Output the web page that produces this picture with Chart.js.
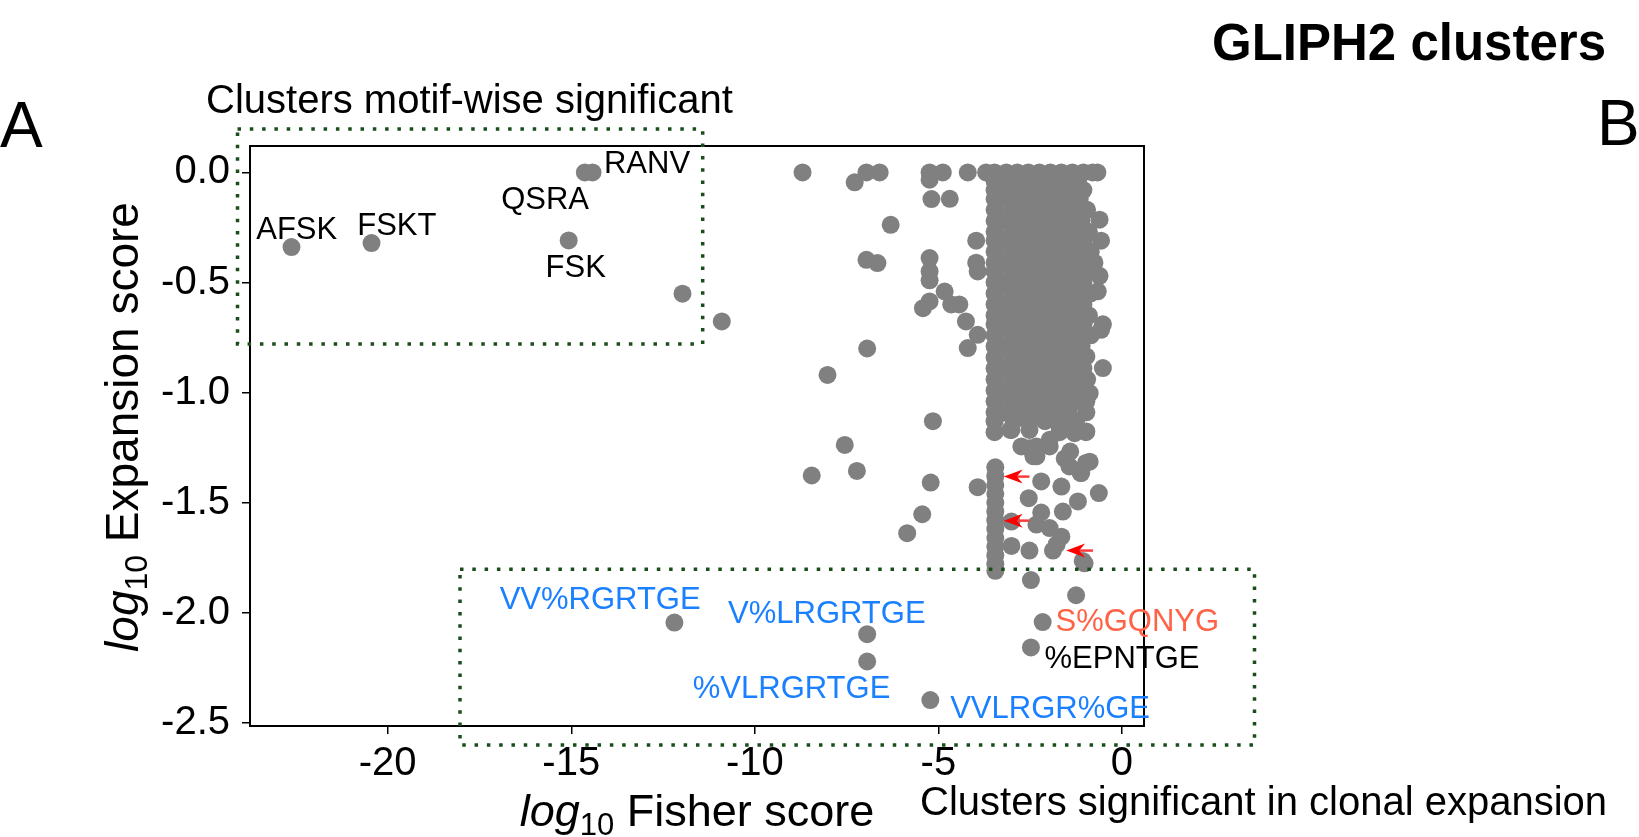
<!DOCTYPE html>
<html>
<head>
<meta charset="utf-8">
<script src="https://cdn.jsdelivr.net/npm/chart.js@4.4.1/dist/chart.umd.min.js"></script>
<style>
  html, body { margin: 0; padding: 0; background: #fff; }
  canvas { display: block; }
</style>
</head>
<body>
<canvas id="gliph" width="1639" height="837"></canvas>
<script>
// --- data (log10 Fisher score, log10 expansion score) ---
const fisherTicks = [-20, -15, -10, -5, 0];
const expansionTicks = [0, -0.5, -1, -1.5, -2, -2.5];

// clusters that carry a motif label
const labelledPoints = [
  [-22.62, -0.339], [-20.44, -0.321], [-14.63, 0], [-14.42, 0], [-15.07, -0.309],
  [-12.19, -2.045], [-6.94, -2.098], [-6.94, -2.222], [-5.22, -2.397],
  [-2.16, -2.043], [-2.48, -2.158]
];

// scattered clusters outside the dense block
const sparsePoints = [
  [-11.97, -0.551], [-10.9, -0.677], [-8.70, 0], [-7.28, -0.045], [-6.96, 0], [-6.60, 0],
  [-5.24, 0], [-4.88, 0], [-4.20, 0], [-5.24, -0.033], [-5.19, -0.121], [-4.69, -0.12],
  [-6.30, -0.238], [-6.96, -0.397], [-6.66, -0.412], [-5.24, -0.389], [-5.24, -0.45],
  [-5.24, -0.49], [-4.83, -0.541], [-5.24, -0.586], [-5.42, -0.617], [-4.65, -0.60],
  [-4.43, -0.60], [-4.25, -0.677], [-3.93, -0.738], [-4.20, -0.798], [-6.94, -0.80],
  [-8.02, -0.92], [-5.15, -1.13], [-7.55, -1.238], [-7.22, -1.356], [-8.45, -1.377],
  [-5.21, -1.409], [-5.44, -1.553], [-5.85, -1.639], [-3.93, -1.43],
  [-1.25, -1.921], [-2.48, -1.852], [-1.02, -1.776],
  [-2.20, -1.404], [-2.54, -1.48], [-1.65, -1.427], [-1.20, -1.495], [-0.63, -1.457],
  [-2.20, -1.545], [-1.61, -1.541], [-3.01, -1.586], [-2.33, -1.60], [-1.97, -1.616],
  [-1.65, -1.655], [-3.01, -1.697], [-2.52, -1.718], [-1.88, -1.718], [-1.07, -1.765],
  [-1.78, -1.69], [-1.41, -1.268], [-0.98, -1.32], [-1.13, -1.365], [-2.41, -1.29],
  [-1.97, -1.215], [-2.33, -1.245], [-3.04, -1.17], [-0.98, -1.18],
  [-3.01, -1.17], [-2.52, -1.17], [-2.52, -1.253], [-2.33, -1.29], [-1.97, -1.245],
  [-1.70, -1.155], [-1.29, -1.185], [-0.97, -1.177], [-1.56, -1.30], [-1.43, -1.336],
  [-1.11, -1.366], [-0.88, -1.314], [-0.52, -0.889], [-0.88, -1.003], [-0.97, -0.836],
  [-0.57, -0.715], [-0.61, -0.215], [-0.57, -0.31], [-0.61, -0.47], [-0.66, -0.54],
  [-0.52, -0.69], [-2.74, -1.245]
];

// column of clusters at log10 Fisher ~ -3.45 below the block
const columnFisher = -3.45;
const columnExpansion = [-1.34, -1.38, -1.42, -1.46, -1.50, -1.54, -1.58, -1.62, -1.66, -1.70, -1.74, -1.78, -1.81];

// dense block: [expansion, [fisher values]]
const denseRows = [
  [0.00, [-3.70, -3.47, -3.15, -2.85, -2.55, -2.25, -1.95, -1.65, -1.35, -1.05, -0.80, -0.67]],
  [-0.04, [-3.47, -3.25, -2.90, -2.45, -2.05, -1.60, -1.20]],
  [-0.08, [-3.47, -3.05, -2.65, -2.20, -1.80, -1.40, -1.05]],
  [-0.12, [-3.47, -3.25, -2.85, -2.40, -1.95, -1.55, -1.15]],
  [-0.17, [-3.47, -3.00, -2.60, -2.15, -1.75, -1.30, -0.95]],
  [-0.22, [-3.47, -3.20, -2.80, -2.35, -1.95, -1.50, -1.10]],
  [-0.27, [-3.47, -3.00, -2.55, -2.15, -1.70, -1.30, -0.90]],
  [-0.31, [-3.97, -3.47, -3.20, -2.80, -2.35, -1.90, -1.50, -1.05]],
  [-0.36, [-3.47, -3.00, -2.60, -2.15, -1.70, -1.25, -0.85]],
  [-0.41, [-3.97, -3.47, -3.20, -2.80, -2.35, -1.95, -1.50, -1.05, -0.75]],
  [-0.45, [-3.93, -3.47, -3.00, -2.55, -2.10, -1.70, -1.25, -0.90]],
  [-0.50, [-3.47, -3.20, -2.80, -2.35, -1.90, -1.45, -1.05]],
  [-0.55, [-3.47, -3.00, -2.60, -2.15, -1.70, -1.30, -0.85]],
  [-0.60, [-3.47, -3.20, -2.80, -2.35, -1.95, -1.50, -1.05]],
  [-0.65, [-3.47, -3.00, -2.55, -2.10, -1.70, -1.25, -0.90]],
  [-0.69, [-3.47, -3.20, -2.80, -2.35, -1.90, -1.45, -1.05]],
  [-0.74, [-3.47, -3.00, -2.60, -2.15, -1.70, -1.30, -0.85]],
  [-0.79, [-3.47, -3.20, -2.80, -2.35, -1.95, -1.50, -1.10]],
  [-0.84, [-3.47, -3.00, -2.55, -2.10, -1.70, -1.25]],
  [-0.89, [-3.47, -3.20, -2.80, -2.35, -1.90, -1.45, -1.05]],
  [-0.94, [-3.47, -3.00, -2.60, -2.15, -1.70, -1.30, -0.95]],
  [-0.99, [-3.47, -3.20, -2.80, -2.35, -1.95, -1.50, -1.10]],
  [-1.04, [-3.47, -3.00, -2.55, -2.10, -1.70, -1.25, -0.97]],
  [-1.09, [-3.47, -3.20, -2.80, -2.35, -1.90, -1.45, -0.97]],
  [-1.13, [-3.47, -2.95, -2.55, -2.10, -1.60, -1.25]],
  [-1.18, [-3.47, -1.70]]
];

// motif text annotations (left / baseline anchored, data units)
const motifLabels = ['AFSK', 'FSKT', 'QSRA', 'RANV', 'FSK', 'VV%RGRTGE', 'V%LRGRTGE', '%VLRGRTGE', 'VVLRGR%GE', 'S%GQNYG', '%EPNTGE'];
const motifLabelX = [-23.58, -20.83, -16.91, -14.11, -15.70, -16.95, -10.73, -11.69, -4.68, -1.81, -2.11];
const motifLabelY = [-0.301, -0.283, -0.165, -0.003, -0.475, -1.985, -2.045, -2.389, -2.479, -2.085, -2.253];
const motifLabelColor = ['#000', '#000', '#000', '#000', '#000', '#1a80ff', '#1a80ff', '#1a80ff', '#1a80ff', '#ff6347', '#000'];

// highlight arrows: tip and tail in data units
const arrowTipX = [-3.22, -3.22, -1.52];
const arrowTailX = [-2.52, -2.52, -0.79];
const arrowY = [-1.382, -1.582, -1.718];

// dotted boxes: [left, right, top, bottom]
const motifBox = [-24.09, -11.42, 0.197, -0.779];
const expansionBox = [-18.03, 3.61, -1.803, -2.601];

const densePoints = [];
denseRows.forEach(([y, xs]) => xs.forEach(x => densePoints.push({ x, y })));
columnExpansion.forEach(y => densePoints.push({ x: columnFisher, y }));

const allPoints = labelledPoints.concat(sparsePoints).map(([x, y]) => ({ x, y })).concat(densePoints);

const SANS = '"Liberation Sans", Arial, sans-serif';

function drawLogTitle(ctx, rest, cx, cy, rotate, size) {
  ctx.save();
  ctx.translate(cx, cy);
  if (rotate) ctx.rotate(-Math.PI / 2);
  const ital = 'italic ' + size + 'px ' + SANS, main = size + 'px ' + SANS;
  const sub = Math.round(size * 0.7) + 'px ' + SANS;
  ctx.font = ital; const w1 = ctx.measureText('log').width;
  ctx.font = sub; const w2 = ctx.measureText('10').width;
  ctx.font = main; const w3 = ctx.measureText(rest).width;
  let x = -(w1 + w2 + w3) / 2;
  ctx.fillStyle = '#000';
  ctx.textAlign = 'left';
  ctx.textBaseline = 'alphabetic';
  ctx.font = ital; ctx.fillText('log', x, 0); x += w1;
  ctx.font = sub; ctx.fillText('10', x, size * 0.2); x += w2;
  ctx.font = main; ctx.fillText(rest, x, 0);
  ctx.restore();
}

const decor = {
  id: 'decor',
  afterDatasetsDraw(chart) {
    const { ctx, chartArea: a } = chart;
    ctx.save();
    ctx.strokeStyle = '#000';
    ctx.lineWidth = 2;
    ctx.strokeRect(a.left, a.top, a.right - a.left, a.bottom - a.top);
    ctx.restore();
  },
  afterDraw(chart) {
    const { ctx, chartArea: a } = chart;
    const xs = chart.scales.x, ys = chart.scales.y;

    // dotted boxes
    ctx.save();
    ctx.strokeStyle = '#1b4d1b';
    ctx.lineWidth = 3.5;
    ctx.setLineDash([3.5, 8.8]);
    [motifBox, expansionBox].forEach(b => {
      const l = xs.getPixelForValue(b[0]), r = xs.getPixelForValue(b[1]);
      const t = ys.getPixelForValue(b[2]), bt = ys.getPixelForValue(b[3]);
      ctx.strokeRect(l, t, r - l, bt - t);
    });
    ctx.restore();

    // red arrows
    ctx.save();
    arrowY.forEach((yv, i) => {
      const tip = xs.getPixelForValue(arrowTipX[i]);
      const tail = xs.getPixelForValue(arrowTailX[i]);
      const y = ys.getPixelForValue(yv);
      ctx.strokeStyle = '#ff3b3b';
      ctx.lineWidth = 2.5;
      ctx.beginPath(); ctx.moveTo(tip + 6, y); ctx.lineTo(tail, y); ctx.stroke();
      ctx.fillStyle = '#ff0000';
      ctx.beginPath();
      ctx.moveTo(tip, y);
      ctx.lineTo(tip + 19, y - 7);
      ctx.lineTo(tip + 13, y);
      ctx.lineTo(tip + 19, y + 7);
      ctx.closePath();
      ctx.fill();
    });
    ctx.restore();

    // motif labels
    ctx.save();
    ctx.font = '31px ' + SANS;
    ctx.textAlign = 'left';
    ctx.textBaseline = 'alphabetic';
    motifLabels.forEach((txt, i) => {
      ctx.fillStyle = motifLabelColor[i];
      ctx.fillText(txt, xs.getPixelForValue(motifLabelX[i]), ys.getPixelForValue(motifLabelY[i]));
    });
    ctx.restore();

    // axis titles
    drawLogTitle(ctx, ' Fisher score', (a.left + a.right) / 2, a.bottom + 100, false, 45);
    drawLogTitle(ctx, ' Expansion score', a.left - 112, (a.top + a.bottom) / 2 - 9, true, 46);

    // figure texts
    ctx.save();
    ctx.fillStyle = '#000';
    ctx.textBaseline = 'alphabetic';
    ctx.textAlign = 'left';
    ctx.font = '40px ' + SANS;
    ctx.fillText('Clusters motif-wise significant', 206, 113);
    ctx.fillText('Clusters significant in clonal expansion', 920, 815);
    ctx.font = '64px ' + SANS;
    ctx.fillText('A', 0, 147);
    ctx.fillText('B', 1597, 145);
    ctx.font = 'bold 51px ' + SANS;
    ctx.textAlign = 'right';
    ctx.fillText('GLIPH2 clusters', 1606, 60);
    ctx.restore();
  }
};

new Chart(document.getElementById('gliph'), {
  type: 'scatter',
  data: {
    datasets: [{
      data: allPoints,
      backgroundColor: '#808080',
      borderWidth: 0,
      pointRadius: 9,
      pointHoverRadius: 9
    }]
  },
  options: {
    responsive: false,
    animation: false,
    devicePixelRatio: 1,
    layout: { padding: { left: 160, top: 146, right: 495, bottom: 51 } },
    plugins: { legend: { display: false }, tooltip: { enabled: false } },
    scales: {
      x: {
        type: 'linear',
        min: -23.75,
        max: 0.6,
        afterBuildTicks: s => { s.ticks = fisherTicks.map(v => ({ value: v })); },
        afterFit: s => { s.height = 60; },
        ticks: {
          font: { family: 'Liberation Sans', size: 40 },
          color: '#000',
          padding: 6,
          maxRotation: 0,
          autoSkip: false,
          callback: v => String(v)
        },
        grid: { drawOnChartArea: false, drawTicks: true, tickLength: 8, color: '#000', lineWidth: 1.5 },
        border: { display: false }
      },
      y: {
        type: 'linear',
        min: -2.515,
        max: 0.12,
        afterBuildTicks: s => { s.ticks = expansionTicks.map(v => ({ value: v })); },
        afterFit: s => { s.width = 90; },
        ticks: {
          font: { family: 'Liberation Sans', size: 40 },
          color: '#000',
          padding: 12,
          autoSkip: false,
          callback: v => v.toFixed(1)
        },
        grid: { drawOnChartArea: false, drawTicks: true, tickLength: 8, color: '#000', lineWidth: 1.5 },
        border: { display: false }
      }
    }
  },
  plugins: [decor]
});
</script>
</body>
</html>
